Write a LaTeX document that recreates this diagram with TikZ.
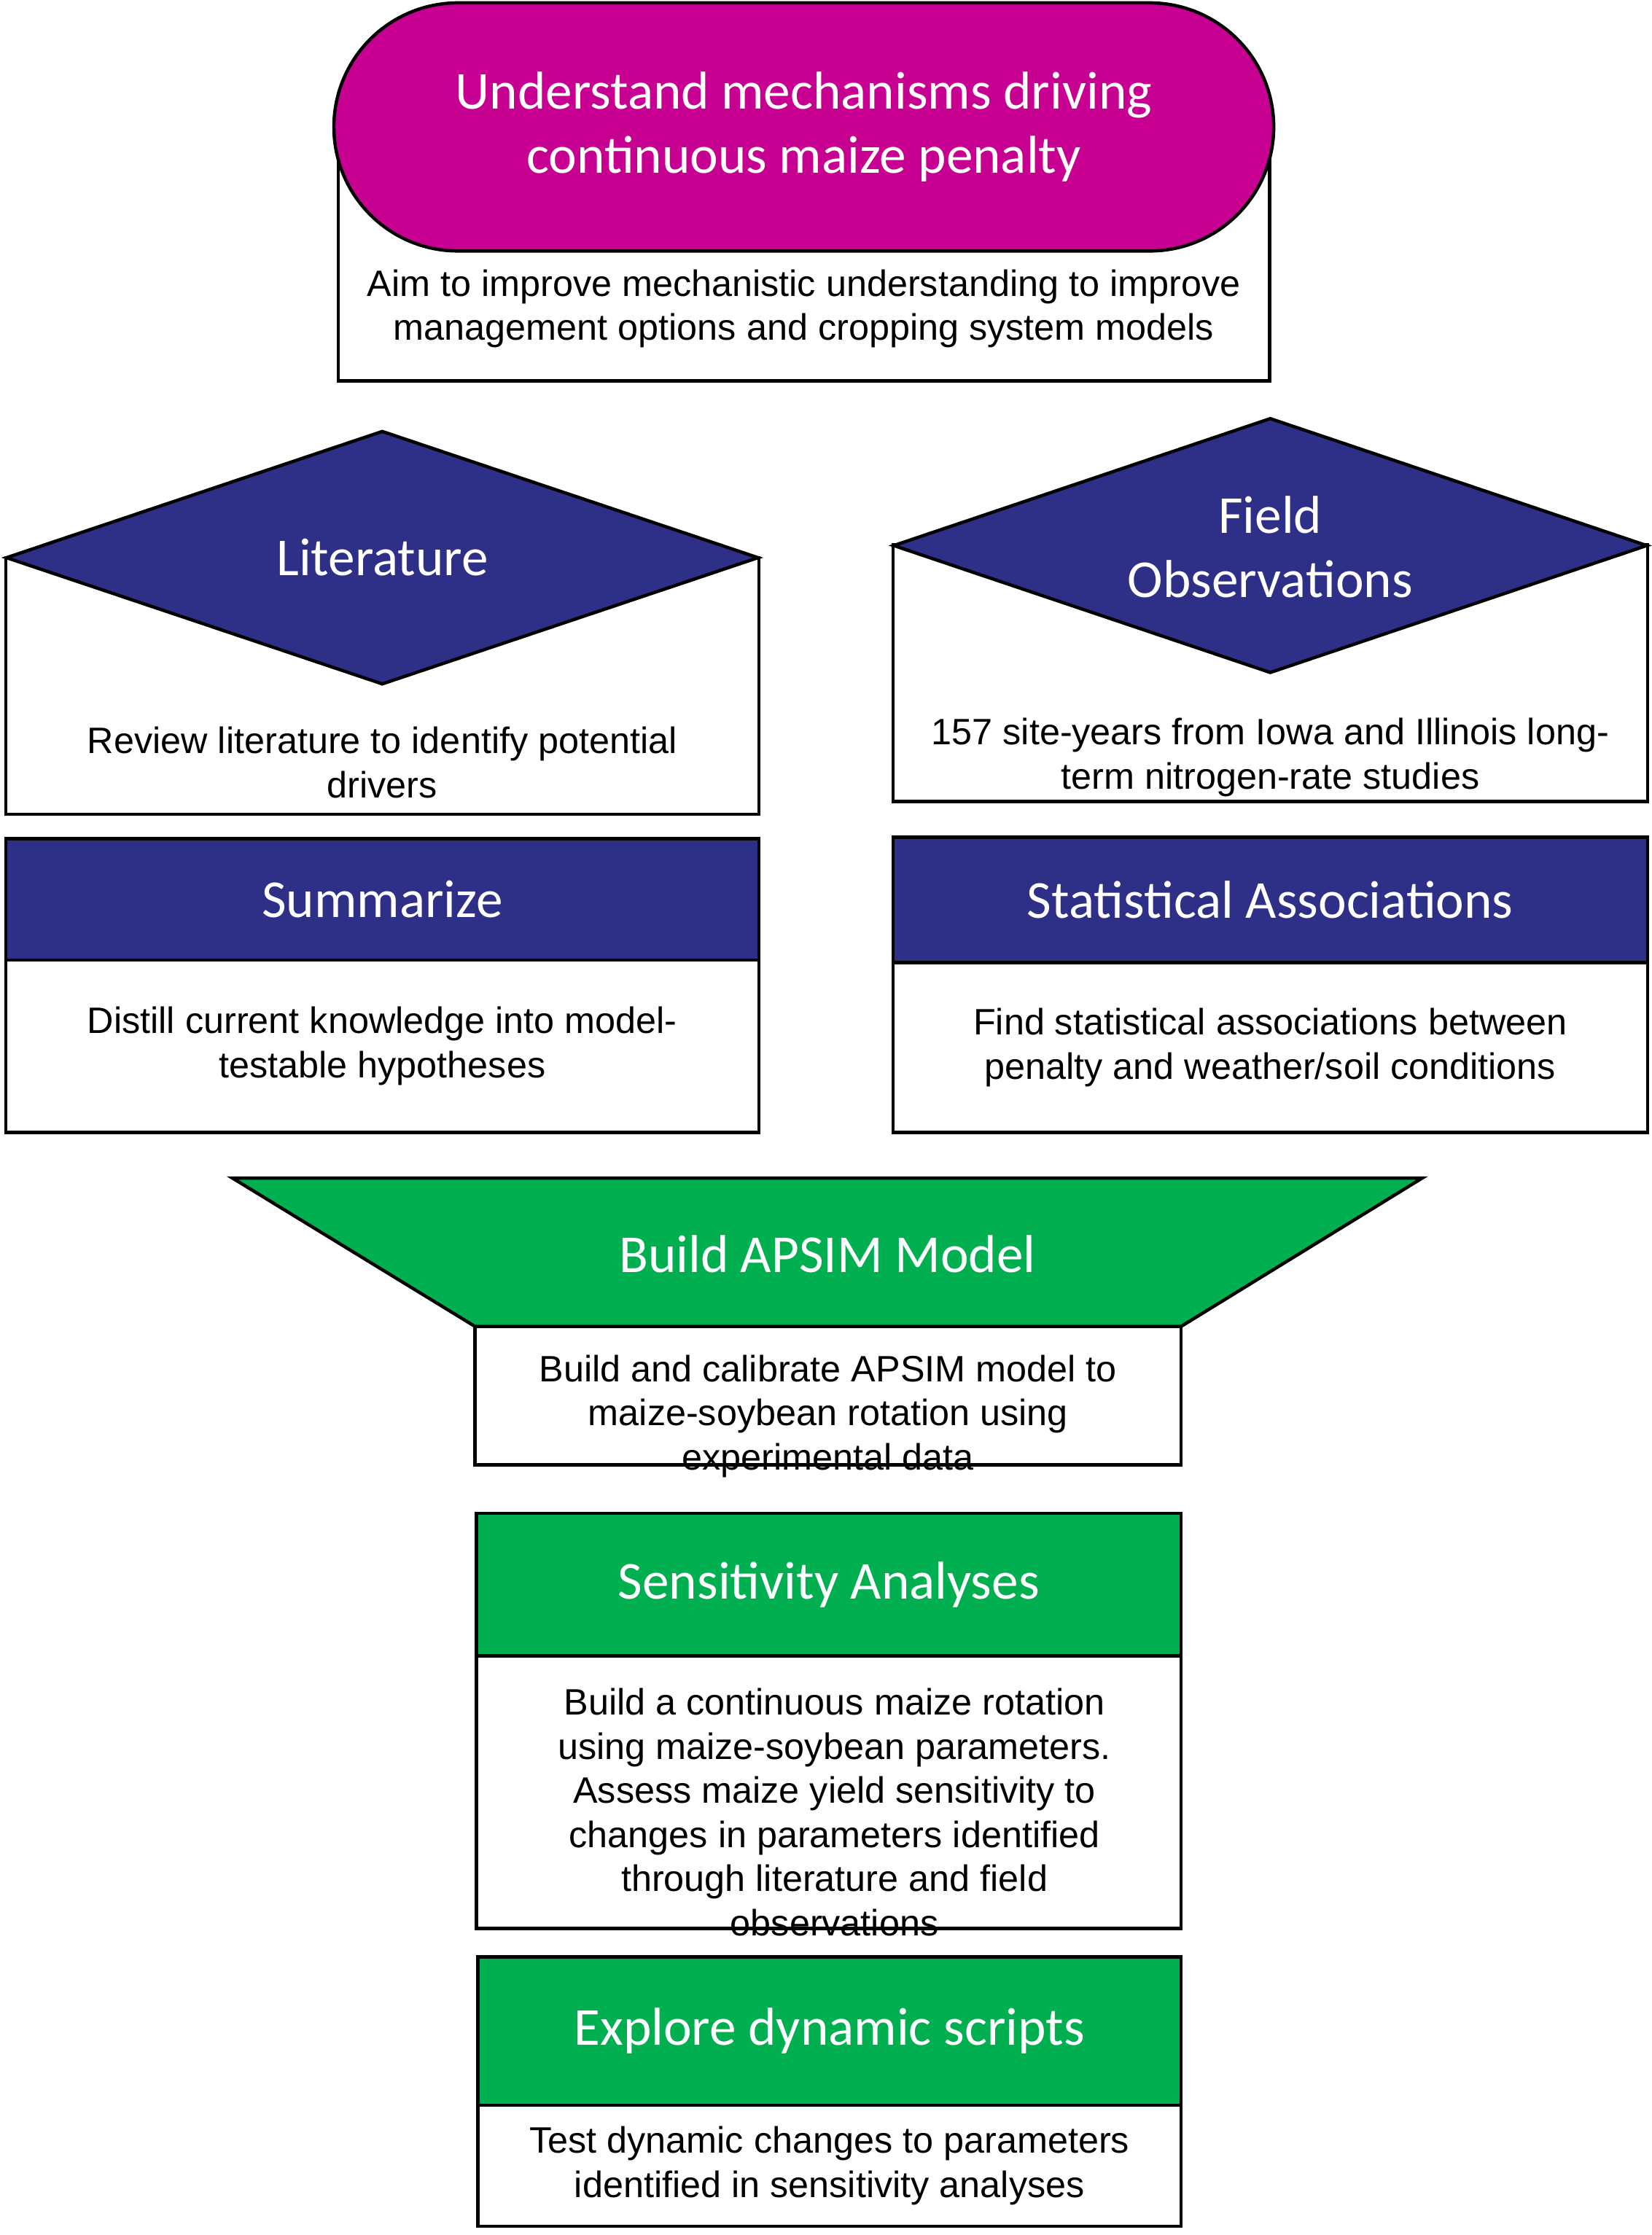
\documentclass[tikz,border=0pt]{standalone}
\usepackage{fontspec}
\setmainfont{Liberation Sans}
\newfontfamily\titlefont{Carlito}
\usetikzlibrary{positioning,shapes.geometric}
\definecolor{penalty}{RGB}{200,0,145}
\definecolor{navy}{RGB}{46,48,136}
\definecolor{apsim}{RGB}{0,176,80}

\begin{document}
\begin{tikzpicture}[x=0.02cm,y=-0.02cm,line width=1.3pt,node distance=0pt,
	box/.style={draw,rectangle,fill=white,inner sep=0pt,outer sep=0pt,align=center,font=\fontsize{14.65}{17.6}\selectfont},
	txt/.style={align=center,inner sep=0pt,font=\fontsize{14.65}{17.6}\selectfont},
	ttl/.style={align=center,text=white,font=\titlefont\fontsize{21.3}{25.6}\selectfont},
	head/.style={box,ttl,fill=#1},
	kite/.style={diamond,draw,fill=navy,inner sep=0pt,minimum width=10.56cm}]

\useasboundingbox (0,0) rectangle (1158,1567);

\node[box,minimum width=13.06cm,minimum height=3.56cm]   (aim) at (563.5,178) {};
\node[draw,fill=penalty,rounded corners=1.74cm,minimum width=13.18cm,minimum height=3.48cm,ttl]   (goal) at (563.5,89)
	{Understand mechanisms driving\\continuous maize penalty};
\node[txt]   (aimtxt) at (563.5,216.5) {Aim to improve mechanistic understanding to improve\\management options and cropping system models};

\node[box,minimum width=10.56cm,minimum height=3.6cm]   (litbox) at (268,481) {};
\node[kite,minimum height=3.56cm]   (lit) at (268,391) {};
\node[ttl]   (litttl) at (lit) {Literature};
\node[txt]   (littxt) at (268,534.5) {Review literature to identify potential\\drivers};

\node[box,minimum width=10.58cm,minimum height=3.6cm]   (fieldbox) at (890.5,472) {};
\node[kite,minimum width=10.58cm,minimum height=3.58cm]   (field) at (890.5,382.5) {};
\node[ttl]   (fieldttl) at (890.5,383.5) {Field\\Observations};
\node[txt]   (fieldtxt) at (890.5,531) {157 site-years from Iowa and Illinois long-\\term nitrogen-rate studies};

\node[head=navy,minimum width=10.56cm,minimum height=1.7cm]   (sum) at (268,630.5) {Summarize};
\node[box,minimum width=10.56cm,minimum height=2.42cm]   (sumbox) [below=of sum] {Distill current knowledge into model-\\testable hypotheses};

\node[head=navy,minimum width=10.58cm,minimum height=1.76cm]   (stat) at (890.5,631) {Statistical Associations};
\node[box,minimum width=10.58cm,minimum height=2.38cm]   (statbox) [below=of stat] {Find statistical associations between\\penalty and weather/soil conditions};

\node[box,minimum width=9.9cm,minimum height=1.94cm]   (buildbox) at (580.5,978.5) {};
\draw[fill=apsim]   (163,826) -- (997,826) -- (buildbox.north east) -- (buildbox.north west) -- cycle;
\node[ttl]   (build) at (580,879) {Build APSIM Model};
\node[txt]   (buildtxt) at (580.5,993) {Build and calibrate APSIM model to\\maize-soybean rotation using\\experimental data};

\node[head=apsim,minimum width=9.88cm,minimum height=2cm]   (sens) at (581,1111) {Sensitivity Analyses};
\node[box,minimum width=9.88cm,minimum height=3.82cm]   (sensbox) [below=of sens] {};
\node[txt]   (senstxt) at (585,1270.5) {Build a continuous maize rotation\\using maize-soybean parameters.\\Assess maize yield sensitivity to\\changes in parameters identified\\through literature and field\\observations};

\node[head=apsim,minimum width=9.86cm,minimum height=2.08cm]   (dyn) at (581.5,1424) {Explore dynamic scripts};
\node[box,minimum width=9.86cm,minimum height=1.7cm]   (dynbox) [below=of dyn] {Test dynamic changes to parameters\\identified in sensitivity analyses};

\end{tikzpicture}
\end{document}
